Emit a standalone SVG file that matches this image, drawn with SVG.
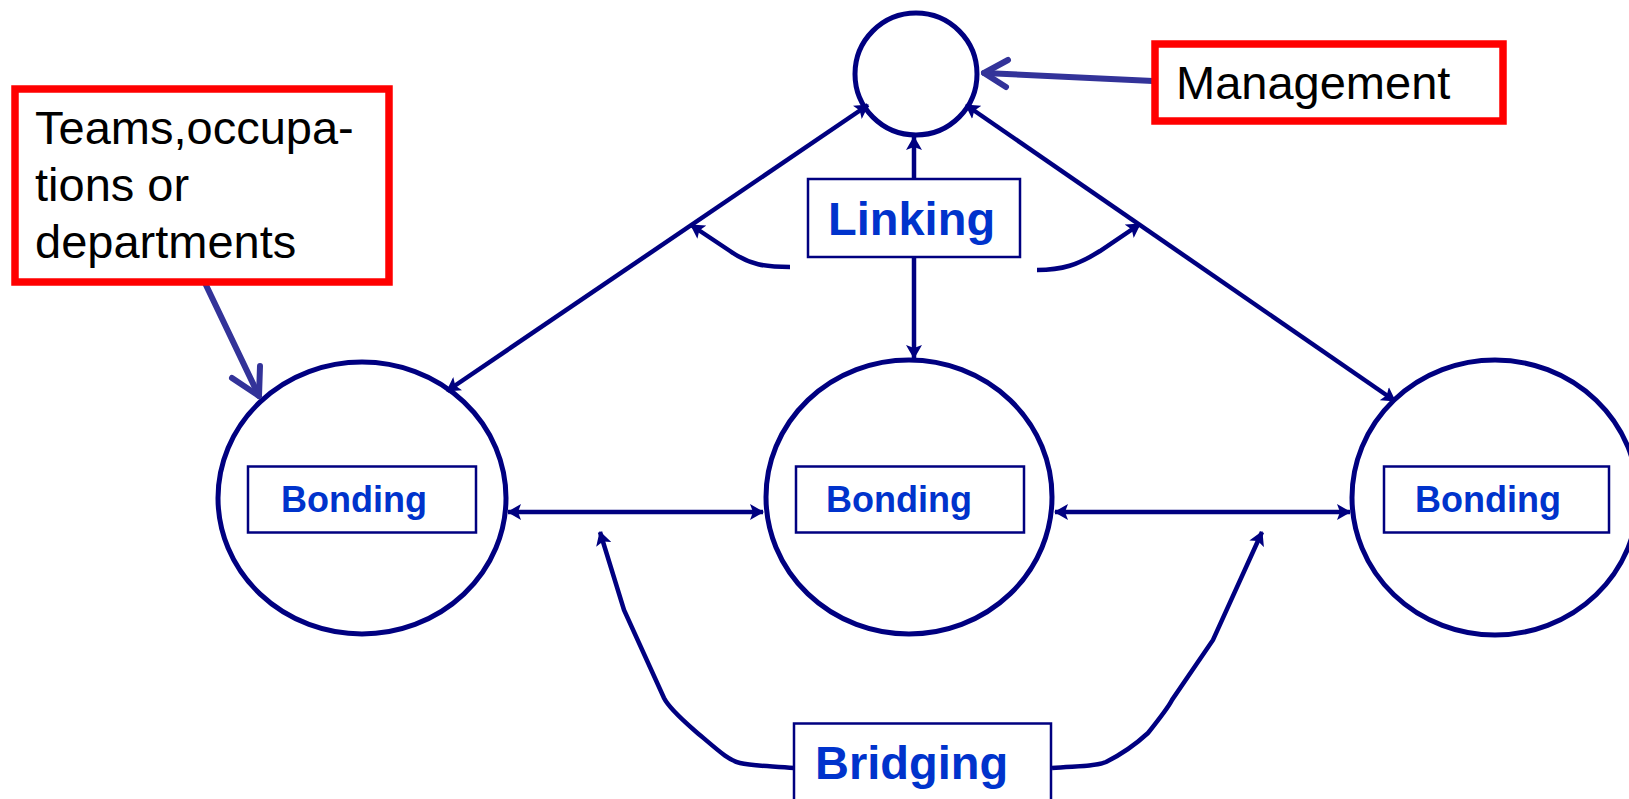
<svg xmlns="http://www.w3.org/2000/svg" width="1629" height="799" viewBox="0 0 1629 799">
  <style>
    .unit { fill: #ffffff; stroke: #000080; stroke-width: 5; }
    .tag { fill: #ffffff; stroke: #000080; stroke-width: 2.5; }
    .note { fill: #ffffff; stroke: #ff0000; stroke-width: 7.5; }
    .link { fill: none; stroke: #000080; stroke-width: 4.5; }
    .pointer { fill: none; stroke: #333399; stroke-width: 6; stroke-linecap: round; stroke-linejoin: round; }
    .lbl { font-family: "Liberation Sans", Arial, sans-serif; font-weight: bold; fill: #0033cc; }
    .txt { font-family: "Liberation Sans", Arial, sans-serif; fill: #000000; font-size: 47px; }
  </style>
  <defs>
    <marker id="ah" viewBox="0 0 14 16" refX="13" refY="8" markerWidth="14" markerHeight="16" markerUnits="userSpaceOnUse" orient="auto-start-reverse">
      <path d="M0,0 L14,8 L0,16 L3,8 z" fill="#000080"/>
    </marker>
  </defs>

  <!-- social units -->
  <g id="management-unit">
    <circle class="unit" cx="916" cy="74" r="61"/>
  </g>
  <g id="unit-left">
    <ellipse class="unit" cx="362" cy="498" rx="144" ry="136"/>
  </g>
  <g id="unit-middle">
    <ellipse class="unit" cx="909" cy="497" rx="143" ry="137"/>
  </g>
  <g id="unit-right">
    <ellipse class="unit" cx="1495" cy="497.5" rx="143" ry="137.5"/>
  </g>

  <!-- connectors -->
  <g id="connectors">
    <line class="link" x1="914" y1="179" x2="914" y2="137" marker-end="url(#ah)"/>
    <line class="link" x1="914" y1="257" x2="914" y2="358" marker-end="url(#ah)"/>
    <line class="link" x1="447" y1="391" x2="868" y2="105" marker-start="url(#ah)" marker-end="url(#ah)"/>
    <line class="link" x1="966" y1="105" x2="1395" y2="401" marker-start="url(#ah)" marker-end="url(#ah)"/>
    <line class="link" x1="508" y1="512" x2="763" y2="512" marker-start="url(#ah)" marker-end="url(#ah)"/>
    <line class="link" x1="1055" y1="512" x2="1350" y2="512" marker-start="url(#ah)" marker-end="url(#ah)"/>
    <path class="link" d="M790,267 C765,267 750,265 730,251 L691,225" marker-end="url(#ah)"/>
    <path class="link" d="M1037,270 C1062,270 1078,265 1100,251 L1140,224" marker-end="url(#ah)"/>
    <path class="link" d="M794,768 C770,766 752,766 740,763 C728,760 720,752 694,730 C678,716 668,706 664,698 L624,610 L600,532" marker-end="url(#ah)"/>
    <path class="link" d="M1052,768 C1075,766 1095,767 1106,762 C1118,756 1135,745 1148,733 C1160,718 1168,708 1172,700 L1213,640 L1262,532" marker-end="url(#ah)"/>
    <!-- callout pointers -->
    <path class="pointer" d="M1153,81 L984,73"/>
    <path class="pointer" d="M1008,60 L984,73 L1006,87"/>
    <path class="pointer" d="M205,283 L259,396"/>
    <path class="pointer" d="M232,378 L259,396 L260,366"/>
  </g>

  <!-- labels -->
  <g id="linking">
    <rect class="tag" x="808" y="179" width="212" height="78"/>
    <text class="lbl" x="828" y="235" font-size="47">Linking</text>
  </g>
  <g id="bridging">
    <rect class="tag" x="794" y="723.5" width="257" height="100"/>
    <text class="lbl" x="815" y="779" font-size="47">Bridging</text>
  </g>
  <g id="bonding-left">
    <rect class="tag" x="248" y="466.5" width="228" height="66"/>
    <text class="lbl" x="281" y="512" font-size="36">Bonding</text>
  </g>
  <g id="bonding-middle">
    <rect class="tag" x="796" y="466.5" width="228" height="66"/>
    <text class="lbl" x="826" y="512" font-size="36">Bonding</text>
  </g>
  <g id="bonding-right">
    <rect class="tag" x="1384" y="466.5" width="225" height="66"/>
    <text class="lbl" x="1415" y="512" font-size="36">Bonding</text>
  </g>

  <!-- callout boxes -->
  <g id="management-note">
    <rect class="note" x="1155" y="44" width="348" height="77"/>
    <text class="txt" x="1176" y="99">Management</text>
  </g>
  <g id="teams-note">
    <rect class="note" x="15" y="89" width="374" height="193"/>
    <text class="txt" x="35" y="144">Teams,occupa-</text>
    <text class="txt" x="35" y="201">tions or</text>
    <text class="txt" x="35" y="258">departments</text>
  </g>
</svg>
